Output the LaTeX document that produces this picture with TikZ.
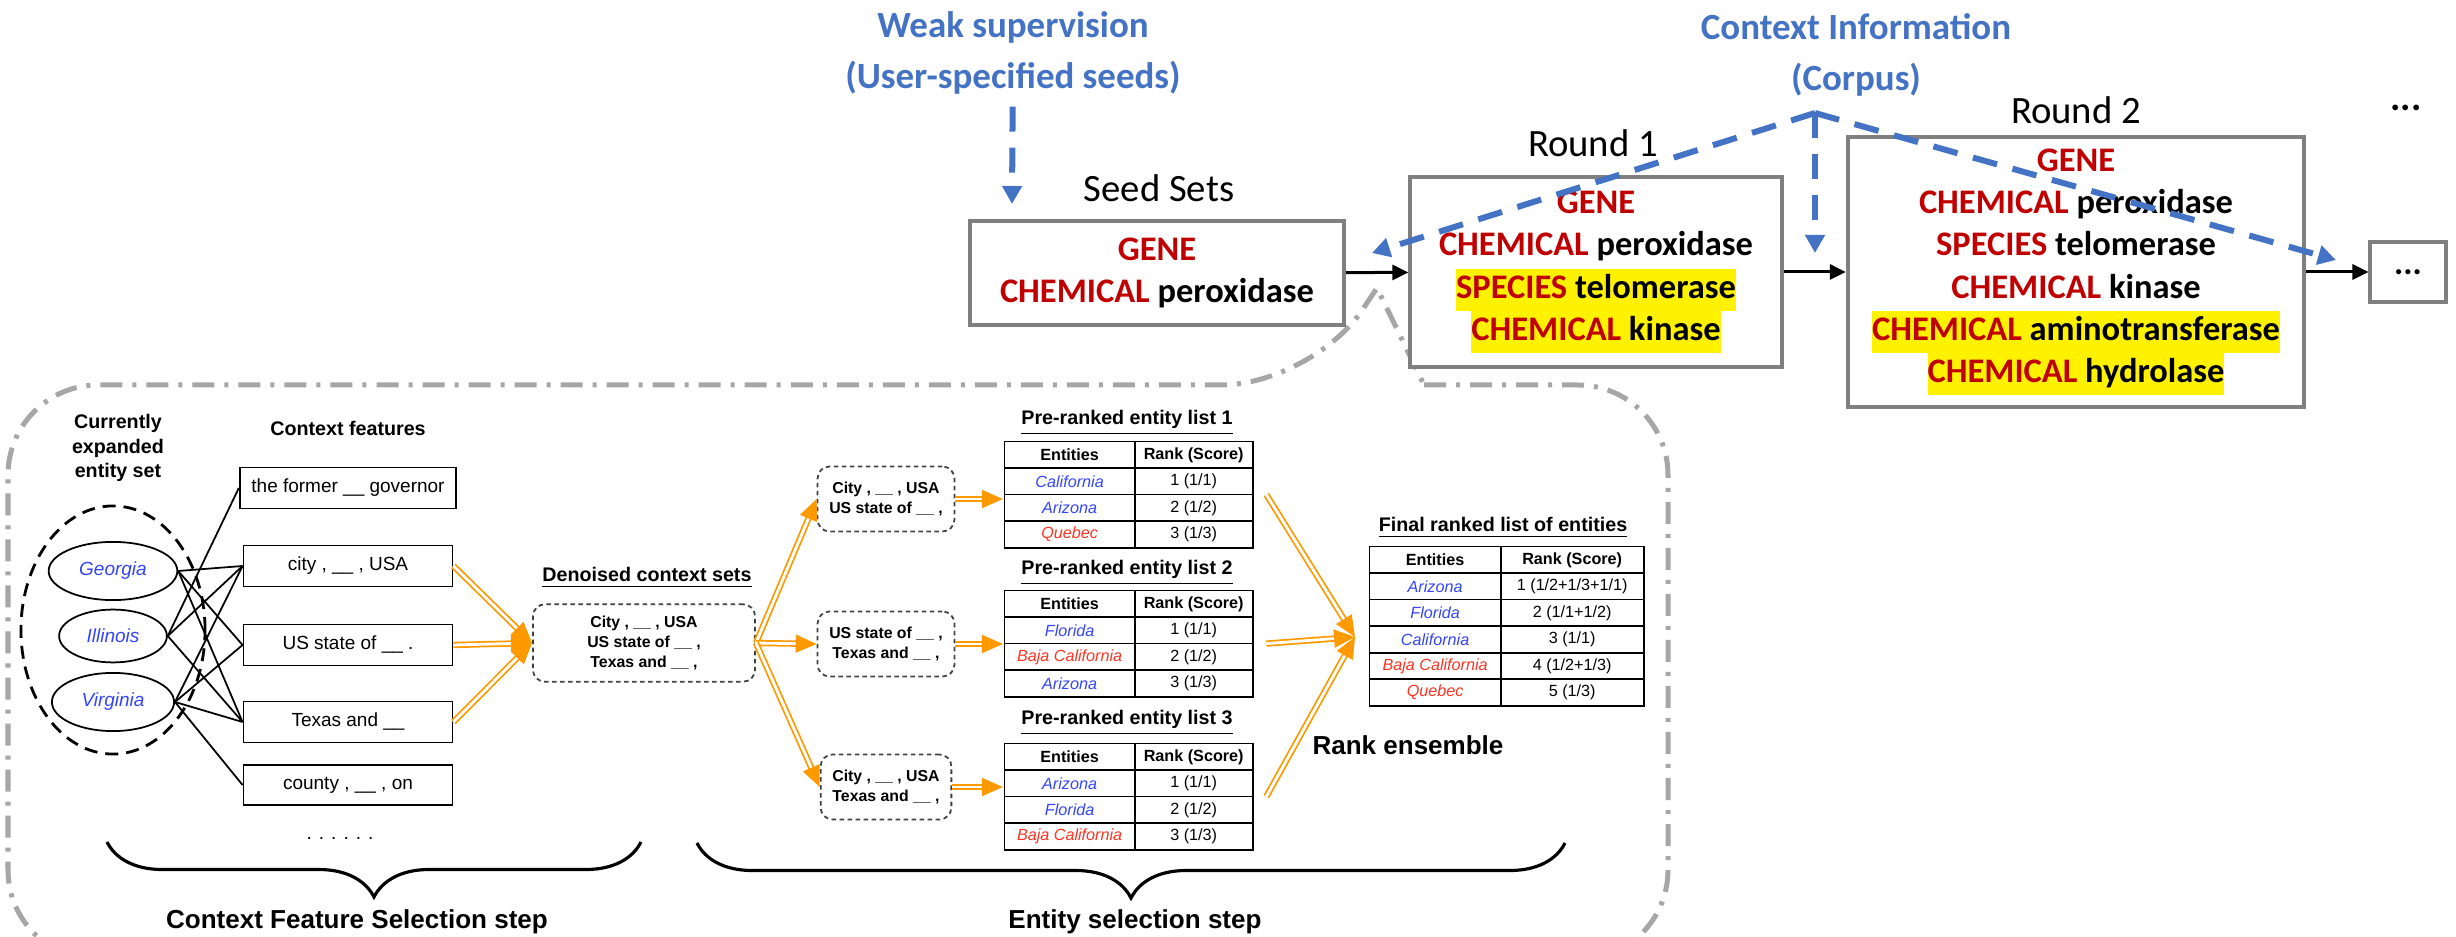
\documentclass[tikz,border=0pt]{standalone}
\usepackage{fontspec}
\setmainfont{Carlito}
\newfontfamily\helv{Liberation Sans}
\usepackage{xcolor}
\usetikzlibrary{arrows.meta,shapes.geometric,matrix,decorations.pathreplacing}
\definecolor{colorc00000}{HTML}{C00000}
\definecolor{color4472c4}{HTML}{4472C4}
\definecolor{color7f7f7f}{HTML}{7F7F7F}
\definecolor{colorff9900}{HTML}{FF9900}
\definecolor{color3344ff}{HTML}{3344FF}
\definecolor{colorff3322}{HTML}{FF3322}
\definecolor{colora6a6a6}{HTML}{A6A6A6}
\newcommand{\ctg}[1]{\textcolor{colorc00000}{#1}}
\newcommand{\hilite}[1]{{\setlength{\fboxsep}{0pt}\colorbox{yellow}{\strut#1}}}
\newcommand{\blueent}[1]{\textcolor{color3344ff}{\itshape #1}}
\newcommand{\redent}[1]{\textcolor{colorff3322}{\itshape #1}}
\newcommand{\gap}{\_\_}

\begin{document}
\begin{tikzpicture}
    [x=0.01cm, y=-0.01cm,
     >={Triangle[length=0.16cm, width=0.15cm]},  % black arrows between rounds
     roundbox/.style={draw=color7f7f7f, line width=0.04cm, fill=white, align=center,
        font=\bfseries\fontsize{9.8}{11.95}\selectfont},
     roundlbl/.style={font=\fontsize{11}{13}\selectfont},
     bluelbl/.style={text=color4472c4, align=center, font=\bfseries\fontsize{10.5}{14.4}\selectfont},
     bluearrow/.style={draw=color4472c4, line width=0.06cm, dash pattern=on 0.25cm off 0.16cm,
        -{Triangle[length=0.18cm, width=0.19cm]}},
     calloutline/.style={draw=colora6a6a6, line width=0.05cm,
        dash pattern=on 0.22cm off 0.1cm on 0.04cm off 0.1cm},
     featbox/.style={draw, line width=0.5pt, minimum width=2.09cm, minimum height=0.38cm,
        font=\helv\fontsize{5.4}{6.5}\selectfont},
     entnode/.style={draw, ellipse, line width=0.5pt, minimum width=1.04cm, minimum height=0.52cm,
        text=color3344ff, font=\helv\itshape\fontsize{5.4}{6.5}\selectfont},
     ctxbox/.style={draw=black!75, line width=0.5pt, dash pattern=on 0.045cm off 0.035cm,
        rounded corners=0.12cm, minimum height=0.65cm, align=center,
        font=\helv\bfseries\fontsize{4.5}{5.7}\selectfont},
     tbltitle/.style={font=\helv\bfseries\fontsize{5.6}{6.9}\selectfont},
     steplbl/.style={font=\helv\bfseries\fontsize{7.4}{9}\selectfont},
     orarrow/.style={draw=colorff9900, double=white, line width=0.5pt, double distance=0.8pt,
        -{Triangle[length=0.21cm, width=0.18cm]}},
     link/.style={line width=0.5pt},
     rankbrace/.style={decorate, decoration={brace, mirror, amplitude=0.55cm}, line width=0.9pt},
     ranktbl/.style={matrix of nodes, anchor=north west, inner sep=0pt, row sep=-0.5pt, column sep=-0.5pt,
        nodes={draw, line width=0.5pt, inner sep=0pt, anchor=center, minimum height=0.265cm,
          font=\helv\fontsize{4.6}{5.5}\selectfont},
        row 1/.style={nodes={font=\helv\bfseries\fontsize{4.6}{5.5}\selectfont}}},
    ]
\clip (0,0) rectangle (2456,937);

% callout round the zoomed-in step
\draw[calloutline] (1424,385) [rounded corners=0.9cm] -- (1668,385) -- (1668,960) -- (8,960)
    -- (8,385) -- (1312,385) [sharp corners] -- (1377,288) -- cycle;

% iterative expansion
\node[bluelbl] (weak) at (1013,53) {Weak supervision\\(User-specified seeds)};
\node[bluelbl] (corpuslbl) at (1856,55) {Context Information\\(Corpus)};
\node[roundlbl] (seedlbl) at (1159,188) {Seed Sets};
\node[roundlbl] (r1lbl) at (1593,143) {Round 1};
\node[roundlbl] (r2lbl) at (2076,110) {Round 2};
\node[font=\bfseries\fontsize{11}{13}\selectfont] (morelbl) at (2406,108) {...};

\node[roundbox, minimum width=3.74cm, minimum height=1.03cm] (seeds) at (1157,273)
    {\ctg{GENE}\\\ctg{CHEMICAL} peroxidase};
\node[roundbox, minimum width=3.71cm, minimum height=1.89cm] (round1) at (1596,272)
    {\ctg{GENE}\\\ctg{CHEMICAL} peroxidase\\\hilite{\ctg{SPECIES} telomerase}\\\hilite{\ctg{CHEMICAL} kinase}};
\node[roundbox, minimum width=4.56cm, minimum height=2.70cm] (round2) at (2076,272)
    {\ctg{GENE}\\\ctg{CHEMICAL} peroxidase\\\ctg{SPECIES} telomerase\\\ctg{CHEMICAL} kinase\\
     \hilite{\ctg{CHEMICAL} aminotransferase}\\\hilite{\ctg{CHEMICAL} hydrolase}};
\node[roundbox, minimum width=0.75cm, minimum height=0.60cm] (more) at (2408,272) {...};

\draw[->, line width=0.03cm] (seeds) -- (round1);
\draw[->, line width=0.03cm] (round1) -- (round2);
\draw[->, line width=0.03cm] (round2) -- (more);

\coordinate (seedin) at (1012,204);
\coordinate (corpus) at (1815,113);
\coordinate (back) at (1372,253);
\coordinate (down) at (1815,253);
\coordinate (ahead) at (2336,260);
\draw[bluearrow] (weak) -- (seedin);
\draw[bluearrow] (corpus) -- (back);
\draw[bluearrow] (corpus) -- (down);
\draw[bluearrow] (corpus) -- (ahead);

% context feature selection
\node[tbltitle, align=center] (entsetlbl) at (118,448) {Currently\\expanded\\entity set};
\node[tbltitle] (featlbl) at (348,428) {Context features};
\node[draw, ellipse, line width=0.8pt, dash pattern=on 0.13cm off 0.08cm,
    minimum width=1.84cm, minimum height=2.48cm] (entset) at (113,630) {};
\node[entnode] (georgia) at (113,571) {Georgia};
\node[entnode] (illinois) at (113,636) {Illinois};
\node[entnode] (virginia) at (113,702) {Virginia};

\node[featbox] (fgov) at (348,488) {the former \gap{} governor};
\node[featbox] (fcity) at (348,566) {city , \gap{} , USA};
\node[featbox] (fstate) at (348,645) {US state of \gap{} .};
\node[featbox] (ftexas) at (348,722) {Texas and \gap};
\node[featbox] (fcounty) at (348,785) {county , \gap{} , on};
\node[font=\helv\fontsize{5.4}{6.5}\selectfont] (moredots) at (340,838) {. . . . . .};

\draw[link] (georgia.east) -- (fcity.west);
\draw[link] (georgia.east) -- (fstate.west);
\draw[link] (georgia.east) -- (ftexas.west);
\draw[link] (illinois.east) -- (fgov.west);
\draw[link] (illinois.east) -- (fcity.west);
\draw[link] (illinois.east) -- (ftexas.west);
\draw[link] (virginia.east) -- (fcity.west);
\draw[link] (virginia.east) -- (fstate.west);
\draw[link] (virginia.east) -- (ftexas.west);
\draw[link] (virginia.east) -- (fcounty.west);

% denoised contexts
\node[tbltitle] (denoisedlbl) at (647,578) {\underline{Denoised context sets}};
\node[ctxbox, minimum width=2.22cm] (denoised) at (644,643)
    {City , \gap{} , USA\\US state of \gap{} ,\\Texas and \gap{} ,};
\node[ctxbox, minimum width=1.30cm] (ctx1) at (886,499) {City , \gap{} , USA\\US state of \gap{} ,};
\node[ctxbox, minimum width=1.30cm] (ctx2) at (886,644) {US state of \gap{} ,\\Texas and \gap{} ,};
\node[ctxbox, minimum width=1.30cm] (ctx3) at (886,787) {City , \gap{} , USA\\Texas and \gap{} ,};

\draw[orarrow] (fcity.east) -- (denoised.west);
\draw[orarrow] (fstate.east) -- (denoised.west);
\draw[orarrow] (ftexas.east) -- (denoised.west);
\draw[orarrow] (denoised.east) -- (ctx1.west);
\draw[orarrow] (denoised.east) -- (ctx2.west);
\draw[orarrow] (denoised.east) -- (ctx3.west);

% pre-ranked lists
\node[tbltitle] (lst1lbl) at (1127,423) {\underline{Pre-ranked entity list 1}};
\matrix[ranktbl, column 1/.style={nodes={minimum width=1.3cm}},
    column 2/.style={nodes={minimum width=1.18cm}}] (lst1) at (1003,440) {
  Entities & Rank (Score) \\
  \blueent{California} & 1 (1/1) \\
  \blueent{Arizona} & 2 (1/2) \\
  \redent{Quebec} & 3 (1/3) \\
};
\node[tbltitle] (lst2lbl) at (1127,573) {\underline{Pre-ranked entity list 2}};
\matrix[ranktbl, column 1/.style={nodes={minimum width=1.3cm}},
    column 2/.style={nodes={minimum width=1.18cm}}] (lst2) at (1003,589) {
  Entities & Rank (Score) \\
  \blueent{Florida} & 1 (1/1) \\
  \redent{Baja California} & 2 (1/2) \\
  \blueent{Arizona} & 3 (1/3) \\
};
\node[tbltitle] (lst3lbl) at (1127,723) {\underline{Pre-ranked entity list 3}};
\matrix[ranktbl, column 1/.style={nodes={minimum width=1.3cm}},
    column 2/.style={nodes={minimum width=1.18cm}}] (lst3) at (1003,742) {
  Entities & Rank (Score) \\
  \blueent{Arizona} & 1 (1/1) \\
  \blueent{Florida} & 2 (1/2) \\
  \redent{Baja California} & 3 (1/3) \\
};

\draw[orarrow] (ctx1.east) -- (ctx1.east -| lst1.west);
\draw[orarrow] (ctx2.east) -- (ctx2.east -| lst2.west);
\draw[orarrow] (ctx3.east) -- (ctx3.east -| lst3.west);

% rank ensemble
\coordinate (ens) at (1355,637);
\draw[orarrow] ([xshift=0.12cm]lst1.east) -- (ens);
\draw[orarrow] ([xshift=0.12cm]lst2.east) -- (ens);
\draw[orarrow] ([xshift=0.12cm]lst3.east) -- (ens);
\node[steplbl] (enslbl) at (1408,745) {Rank ensemble};

\node[tbltitle] (finallbl) at (1503,528) {\underline{Final ranked list of entities}};
\matrix[ranktbl, column 1/.style={nodes={minimum width=1.31cm}},
    column 2/.style={nodes={minimum width=1.43cm}}] (finallst) at (1368,545) {
  Entities & Rank (Score) \\
  \blueent{Arizona} & 1 (1/2+1/3+1/1) \\
  \blueent{Florida} & 2 (1/1+1/2) \\
  \blueent{California} & 3 (1/1) \\
  \redent{Baja California} & 4 (1/2+1/3) \\
  \redent{Quebec} & 5 (1/3) \\
};

% steps
\draw[rankbrace] (107,842) -- (641,842);
\draw[rankbrace] (697,843) -- (1565,843);
\node[steplbl] (featstep) at (357,922) {Context Feature Selection step};
\node[steplbl] (entstep) at (1135,922) {Entity selection step};

\end{tikzpicture}
\end{document}
